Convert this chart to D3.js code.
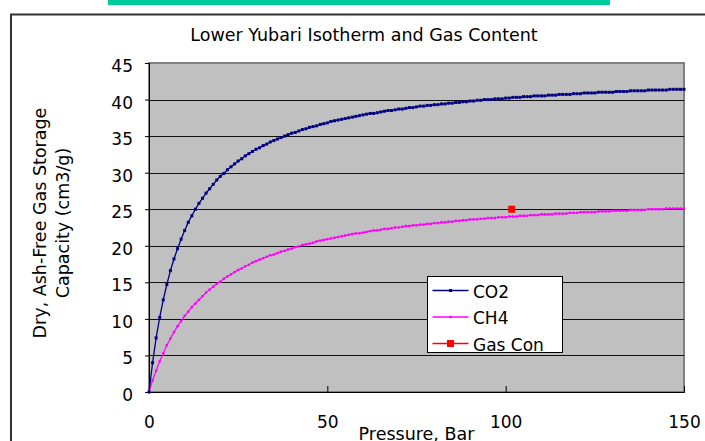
<!DOCTYPE html>
<html>
<head>
<meta charset="utf-8">
<script src="https://cdn.jsdelivr.net/npm/d3@7"></script>
<style>
  body { margin: 0; background: #fff; }
  text { font-family: "DejaVu Sans", "Liberation Sans", sans-serif; fill: #000; }
</style>
</head>
<body>
<div id="chart"></div>
<script>
// pressure (bar) for the isotherm points
const pressure = [
  0,1,2,3,4,5,6,7,8,9,10,11,12,13,14,15,16,17,18,19,20,21,22,23,24,25,26,27,28,29,
  30,31,32,33,34,35,36,37,38,39,40,41,42,43,44,45,46,47,48,49,50,51,52,53,54,55,56,57,58,59,
  60,61,62,63,64,65,66,67,68,69,70,71,72,73,74,75,76,77,78,79,80,81,82,83,84,85,86,87,88,89,
  90,91,92,93,94,95,96,97,98,99,100,101,102,103,104,105,106,107,108,109,110,111,112,113,114,115,116,117,118,119,
  120,121,122,123,124,125,126,127,128,129,130,131,132,133,134,135,136,137,138,139,140,141,142,143,144,145,146,147,148,149,150
];
const co2 = [
  0,4.0,7.4,10.2,12.6,14.7,16.6,18.2,19.6,20.9,22.1,23.2,24.1,25.0,25.8,26.5,27.2,27.8,28.4,29.0,
  29.5,29.9,30.4,30.8,31.2,31.6,31.9,32.3,32.6,32.9,33.2,33.4,33.7,33.9,34.2,34.4,34.6,34.8,35.0,35.2,
  35.4,35.5,35.7,35.9,36.0,36.2,36.3,36.4,36.6,36.7,36.8,37.0,37.1,37.2,37.3,37.4,37.5,37.6,37.7,37.8,
  37.9,38.0,38.1,38.1,38.2,38.3,38.4,38.5,38.5,38.6,38.7,38.7,38.8,38.9,38.9,39.0,39.1,39.1,39.2,39.2,
  39.3,39.3,39.4,39.4,39.5,39.5,39.6,39.6,39.7,39.7,39.8,39.8,39.9,39.9,40.0,40.0,40.0,40.1,40.1,40.1,
  40.2,40.2,40.3,40.3,40.3,40.4,40.4,40.4,40.5,40.5,40.5,40.5,40.6,40.6,40.6,40.7,40.7,40.7,40.7,40.8,
  40.8,40.8,40.9,40.9,40.9,40.9,41.0,41.0,41.0,41.0,41.0,41.1,41.1,41.1,41.1,41.2,41.2,41.2,41.2,41.2,
  41.3,41.3,41.3,41.3,41.3,41.3,41.4,41.4,41.4,41.4,41.4
];
const ch4 = [
  0,1.6,2.9,4.2,5.3,6.4,7.3,8.2,9.0,9.7,10.4,11.0,11.6,12.1,12.6,13.1,13.6,14.0,14.4,14.8,
  15.1,15.5,15.8,16.1,16.4,16.7,16.9,17.2,17.4,17.7,17.9,18.1,18.3,18.5,18.7,18.8,19.0,19.2,19.3,19.5,
  19.6,19.8,19.9,20.1,20.2,20.3,20.4,20.6,20.7,20.8,20.9,21.0,21.1,21.2,21.3,21.4,21.5,21.6,21.7,21.7,
  21.8,21.9,22.0,22.1,22.1,22.2,22.3,22.3,22.4,22.5,22.5,22.6,22.7,22.7,22.8,22.8,22.9,22.9,23.0,23.0,
  23.1,23.1,23.2,23.2,23.3,23.3,23.4,23.4,23.5,23.5,23.6,23.6,23.6,23.7,23.7,23.8,23.8,23.8,23.9,23.9,
  23.9,24.0,24.0,24.0,24.1,24.1,24.1,24.2,24.2,24.2,24.3,24.3,24.3,24.3,24.4,24.4,24.4,24.4,24.5,24.5,
  24.5,24.6,24.6,24.6,24.6,24.6,24.7,24.7,24.7,24.7,24.8,24.8,24.8,24.8,24.8,24.9,24.9,24.9,24.9,24.9,
  25.0,25.0,25.0,25.0,25.0,25.1,25.1,25.1,25.1,25.1,25.1
];
// measured gas content
const gasConP = [101.7];
const gasConV = [25.0];

const seriesNames = ["CO2", "CH4", "Gas Con"];
const seriesColors = ["#000080", "#ff00ff", "#ff0000"];
const xTicks = [0, 50, 100, 150];
const yTicks = [0, 5, 10, 15, 20, 25, 30, 35, 40, 45];

const W = 705, H = 441;
const plot = { left: 149, top: 63, right: 684, bottom: 392 };

const svg = d3.select('#chart').append('svg')
  .attr('width', W)
  .attr('height', H);

// green strip at the top of the page
svg.append('rect')
  .attr('x', 108).attr('y', 0).attr('width', 502).attr('height', 5)
  .attr('fill', '#00cc99');

// chart area frame
svg.append('rect')
  .attr('x', 11).attr('y', 14.5).attr('width', 720).attr('height', 450)
  .attr('fill', '#fff').attr('stroke', '#333').attr('stroke-width', 2);

svg.append('text')
  .attr('x', 364).attr('y', 41)
  .attr('text-anchor', 'middle')
  .attr('font-size', 17.5)
  .text('Lower Yubari Isotherm and Gas Content');

const x = d3.scaleLinear().domain([0, 150]).range([plot.left, plot.right]);
const y = d3.scaleLinear().domain([0, 45]).range([plot.bottom, plot.top]);

// plot background
svg.append('rect')
  .attr('x', plot.left).attr('y', plot.top)
  .attr('width', plot.right - plot.left).attr('height', plot.bottom - plot.top)
  .attr('fill', '#c0c0c0').attr('stroke', '#808080').attr('stroke-width', 2);

// gridlines
svg.append('g')
  .selectAll('line')
  .data(yTicks.filter(d => d > 0 && d < 45))
  .join('line')
  .attr('x1', plot.left).attr('x2', plot.right)
  .attr('y1', d => Math.round(y(d)) + 0.5).attr('y2', d => Math.round(y(d)) + 0.5)
  .attr('stroke', '#111').attr('stroke-width', 1);

// y axis
const yAxis = svg.append('g')
  .attr('class', 'y-axis')
  .attr('transform', `translate(${plot.left},0)`)
  .call(d3.axisLeft(y).tickValues(yTicks).tickSize(4).tickPadding(12));
yAxis.select('.domain').attr('stroke', '#000');
yAxis.selectAll('text').attr('font-size', 17).attr('dy', '0.5em');

// x axis with ticks pointing inward
const xAxis = svg.append('g')
  .attr('class', 'x-axis')
  .attr('transform', `translate(0,${plot.bottom})`)
  .call(d3.axisBottom(x).tickValues(xTicks).tickSize(-6).tickPadding(24));
xAxis.select('.domain').attr('stroke', '#000');
xAxis.selectAll('text').attr('font-size', 17);

svg.append('text')
  .attr('x', (plot.left + plot.right) / 2).attr('y', 440)
  .attr('text-anchor', 'middle')
  .attr('font-size', 17.5)
  .text('Pressure, Bar');

const yTitle = svg.append('text')
  .attr('transform', 'translate(0,223) rotate(-90)')
  .attr('text-anchor', 'middle')
  .attr('font-size', 17.5);
yTitle.append('tspan').attr('x', 0).attr('y', 46).text('Dry, Ash-Free Gas Storage');
yTitle.append('tspan').attr('x', 0).attr('y', 69).text('Capacity (cm3/g)');

// isotherm lines
const line = d3.line()
  .x(d => x(d[0]))
  .y(d => y(d[1]));

const co2Data = pressure.map((p, i) => [p, co2[i]]);
const ch4Data = pressure.map((p, i) => [p, ch4[i]]);

svg.append('path')
  .datum(ch4Data)
  .attr('fill', 'none').attr('stroke', seriesColors[1]).attr('stroke-width', 1.2)
  .attr('d', line);
svg.append('g').selectAll('rect')
  .data(ch4Data)
  .join('rect')
  .attr('x', d => x(d[0]) - 1.2).attr('y', d => y(d[1]) - 1.2)
  .attr('width', 2.4).attr('height', 2.4)
  .attr('fill', seriesColors[1]);

svg.append('path')
  .datum(co2Data)
  .attr('fill', 'none').attr('stroke', seriesColors[0]).attr('stroke-width', 1.3)
  .attr('d', line);
svg.append('g').selectAll('rect')
  .data(co2Data)
  .join('rect')
  .attr('x', d => x(d[0]) - 1.5).attr('y', d => y(d[1]) - 1.5)
  .attr('width', 3).attr('height', 3)
  .attr('fill', seriesColors[0]);

// gas content point
svg.append('g').selectAll('rect')
  .data(gasConP.map((p, i) => [p, gasConV[i]]))
  .join('rect')
  .attr('x', d => x(d[0]) - 3.5).attr('y', d => y(d[1]) - 3.5)
  .attr('width', 7).attr('height', 7)
  .attr('fill', seriesColors[2]);

// legend
const legend = svg.append('g').attr('transform', 'translate(427.5,276.5)');
legend.append('rect')
  .attr('width', 135).attr('height', 76)
  .attr('fill', '#fff').attr('stroke', '#000').attr('stroke-width', 1);
const markerSize = [3, 2.4, 7];
seriesNames.forEach((name, i) => {
  const g = legend.append('g').attr('transform', `translate(0,${14 + i * 26.5})`);
  g.append('line')
    .attr('x1', 5).attr('x2', 41)
    .attr('stroke', seriesColors[i]).attr('stroke-width', 1.3);
  g.append('rect')
    .attr('x', 23 - markerSize[i] / 2).attr('y', -markerSize[i] / 2)
    .attr('width', markerSize[i]).attr('height', markerSize[i])
    .attr('fill', seriesColors[i]);
  g.append('text')
    .attr('x', 45.5).attr('y', 7)
    .attr('font-size', 17)
    .text(name);
});
</script>
</body>
</html>
